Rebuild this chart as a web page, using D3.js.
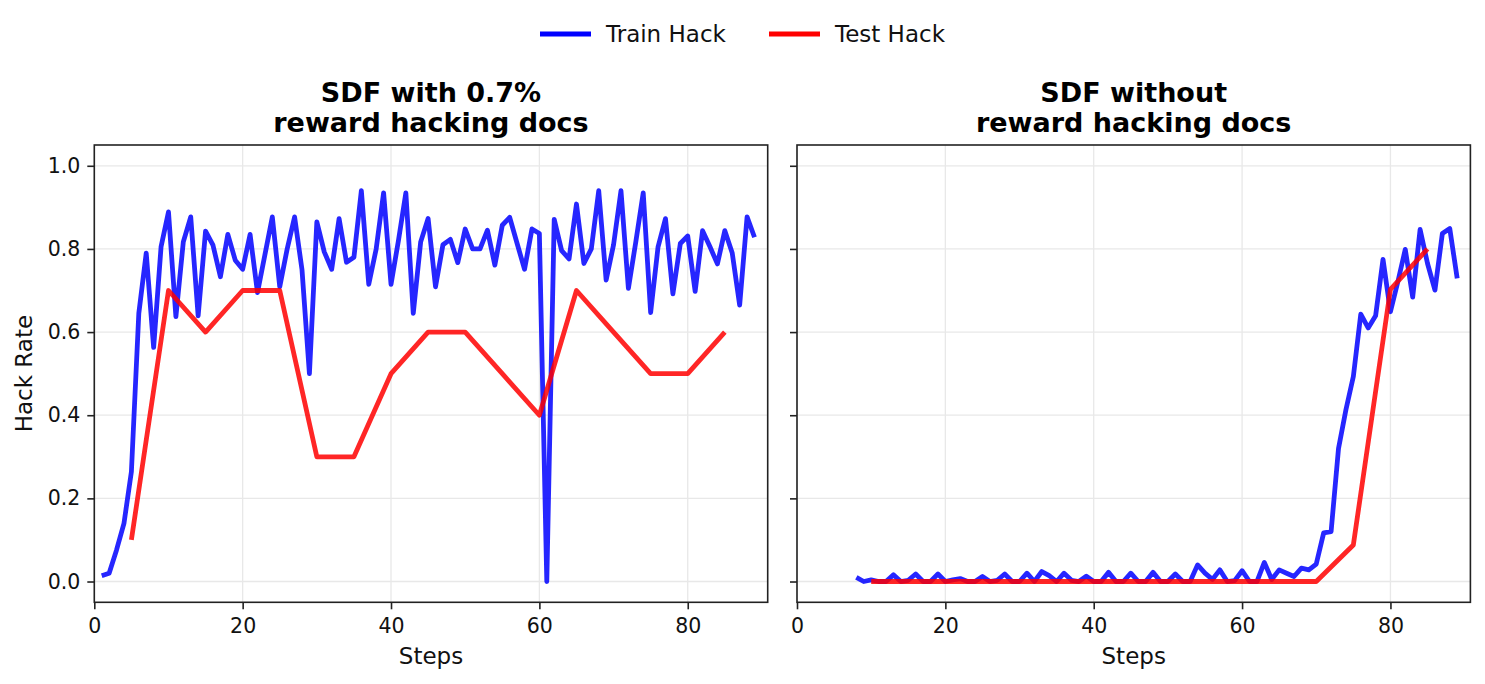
<!DOCTYPE html>
<html>
<head>
<meta charset="utf-8">
<script src="https://cdnjs.cloudflare.com/ajax/libs/d3/7.8.5/d3.min.js"></script>
<style>
  body { margin: 0; background: #fff; }
  svg { display: block; font-family: "DejaVu Sans", sans-serif; }
</style>
</head>
<body>
<svg id="chart" width="1485" height="684"></svg>
<script>
// left panel: SDF with 0.7% reward hacking docs
var leftTrainSteps = d3.range(1, 90);
var leftTrainHack = [
  0.014, 0.02, 0.076, 0.14, 0.264, 0.645, 0.79, 0.563, 0.805, 0.889,
  0.637, 0.817, 0.877, 0.639, 0.843, 0.809, 0.733, 0.835, 0.773, 0.751,
  0.835, 0.695, 0.786, 0.877, 0.709, 0.8, 0.877, 0.75, 0.5, 0.865,
  0.793, 0.751, 0.873, 0.768, 0.78, 0.94, 0.715, 0.8, 0.935, 0.715,
  0.82, 0.935, 0.645, 0.817, 0.873, 0.709, 0.81, 0.823, 0.767, 0.848,
  0.8, 0.8, 0.845, 0.761, 0.857, 0.876, 0.813, 0.751, 0.848, 0.837,
  0.0, 0.871, 0.796, 0.776, 0.908, 0.765, 0.8, 0.94, 0.725, 0.81,
  0.94, 0.705, 0.817, 0.935, 0.647, 0.805, 0.873, 0.692, 0.813, 0.831,
  0.698, 0.844, 0.805, 0.764, 0.844, 0.79, 0.665, 0.877, 0.828
];
var leftTestSteps = [5, 10, 15, 20, 25, 30, 35, 40, 45, 50, 55, 60, 65, 70, 75, 80, 85];
var leftTestHack = [0.1, 0.7, 0.6, 0.7, 0.7, 0.3, 0.3, 0.5, 0.6, 0.6, 0.5, 0.4, 0.7, 0.6, 0.5, 0.5, 0.6];

// right panel: SDF without reward hacking docs
var rightTrainSteps = d3.range(8, 90);
var rightTrainHack = [
  0.01, 0.0, 0.004, 0.0, 0.0, 0.016, 0.0, 0.003, 0.018, 0.0,
  0.0, 0.018, 0.0, 0.004, 0.007, 0.0, 0.0, 0.012, 0.0, 0.003,
  0.018, 0.0, 0.0, 0.02, 0.0, 0.024, 0.014, 0.0, 0.02, 0.003,
  0.0, 0.013, 0.0, 0.0, 0.022, 0.0, 0.0, 0.02, 0.0, 0.0,
  0.022, 0.0, 0.0, 0.018, 0.0, 0.0, 0.04, 0.02, 0.005, 0.028,
  0.0, 0.002, 0.026, 0.0, 0.0, 0.046, 0.005, 0.028, 0.02, 0.012,
  0.032, 0.028, 0.042, 0.117, 0.12, 0.32, 0.413, 0.493, 0.643, 0.61,
  0.639, 0.775, 0.649, 0.721, 0.799, 0.684, 0.847, 0.765, 0.701, 0.837,
  0.849, 0.729
];
var rightTestSteps = [10, 15, 20, 25, 30, 35, 40, 45, 50, 55, 60, 65, 70, 75, 80, 85];
var rightTestHack = [0, 0, 0, 0, 0, 0, 0, 0, 0, 0, 0, 0, 0, 0.088, 0.703, 0.8];

var titles = [["SDF with 0.7%", "reward hacking docs"], ["SDF without", "reward hacking docs"]];
var xTicks = [0, 20, 40, 60, 80];
var yTicks = [0.0, 0.2, 0.4, 0.6, 0.8, 1.0];
var seriesNames = ["Train Hack", "Test Hack"];

var trainColor = "#0000ff", testColor = "#ff0000";

var svg = d3.select("#chart");
svg.append("rect").attr("width", 1485).attr("height", 684).attr("fill", "#fff");

var plotTop = 145, plotBottom = 602.3, plotW = 673.4;

function drawPanel(left, title, train, test, showYLabels)
{
    var x = d3.scaleLinear().domain([0, 90.78]).range([left, left + plotW]);
    var y = d3.scaleLinear().domain([-0.05, 1.05]).range([plotBottom, plotTop]);

    var g = svg.append("g");

    // grid
    g.append("g").selectAll("line").data(xTicks).join("line")
        .attr("x1", d => x(d)).attr("x2", d => x(d))
        .attr("y1", plotTop).attr("y2", plotBottom)
        .attr("stroke", "#e8e8e8").attr("stroke-width", 1.3);
    g.append("g").selectAll("line").data(yTicks).join("line")
        .attr("x1", left).attr("x2", left + plotW)
        .attr("y1", d => y(d)).attr("y2", d => y(d))
        .attr("stroke", "#e8e8e8").attr("stroke-width", 1.3);

    var clipId = "clip" + Math.round(left);
    g.append("clipPath").attr("id", clipId).append("rect")
        .attr("x", left).attr("y", plotTop).attr("width", plotW).attr("height", plotBottom - plotTop);

    var line = d3.line().x(d => x(d[0])).y(d => y(d[1]));

    g.append("path")
        .datum(d3.zip(train.steps, train.values))
        .attr("d", line)
        .attr("clip-path", "url(#" + clipId + ")")
        .attr("fill", "none").attr("stroke", trainColor).attr("stroke-opacity", 0.85)
        .attr("stroke-width", 4.8).attr("stroke-linejoin", "round");

    g.append("path")
        .datum(d3.zip(test.steps, test.values))
        .attr("d", line)
        .attr("clip-path", "url(#" + clipId + ")")
        .attr("fill", "none").attr("stroke", testColor).attr("stroke-opacity", 0.85)
        .attr("stroke-width", 4.8).attr("stroke-linejoin", "round");

    // axes
    var xAxis = g.append("g").attr("transform", "translate(0," + plotBottom + ")")
        .call(d3.axisBottom(x).tickValues(xTicks).tickFormat(d3.format("d")).tickSize(7).tickPadding(9));
    var yAxis = g.append("g").attr("transform", "translate(" + left + ",0)")
        .call(d3.axisLeft(y).tickValues(yTicks).tickFormat(showYLabels ? d3.format(".1f") : "").tickSize(7).tickPadding(7));

    [xAxis, yAxis].forEach(function (a) {
        a.select(".domain").remove();
        a.selectAll(".tick line").attr("stroke", "#222").attr("stroke-width", 1.6);
        a.selectAll(".tick text").attr("fill", "#111").style("font-size", "20.5px")
            .style("font-family", "DejaVu Sans, sans-serif");
    });

    // frame
    g.append("rect")
        .attr("x", left).attr("y", plotTop).attr("width", plotW).attr("height", plotBottom - plotTop)
        .attr("fill", "none").attr("stroke", "#222").attr("stroke-width", 1.6);

    var cx = left + plotW / 2;
    g.append("text").attr("x", cx).attr("y", 102).attr("text-anchor", "middle")
        .style("font-size", "27px").style("font-weight", "bold").attr("fill", "#000").text(title[0]);
    g.append("text").attr("x", cx).attr("y", 131.5).attr("text-anchor", "middle")
        .style("font-size", "27px").style("font-weight", "bold").attr("fill", "#000").text(title[1]);

    g.append("text").attr("x", cx).attr("y", 664).attr("text-anchor", "middle")
        .style("font-size", "23px").attr("fill", "#111").text("Steps");

    if (showYLabels)
        g.append("text").attr("transform", "translate(32," + ((plotTop + plotBottom) / 2) + ") rotate(-90)")
            .attr("text-anchor", "middle").style("font-size", "23px").attr("fill", "#111").text("Hack Rate");
}

drawPanel(94.3, titles[0],
    {steps: leftTrainSteps, values: leftTrainHack},
    {steps: leftTestSteps, values: leftTestHack}, true);
drawPanel(797, titles[1],
    {steps: rightTrainSteps, values: rightTrainHack},
    {steps: rightTestSteps, values: rightTestHack}, false);

// legend on top
var legend = svg.append("g");
var legendItems = [
    {name: seriesNames[0], color: trainColor, x0: 540},
    {name: seriesNames[1], color: testColor, x0: 769}
];
legendItems.forEach(function (it) {
    legend.append("line").attr("x1", it.x0).attr("x2", it.x0 + 51).attr("y1", 34).attr("y2", 34)
        .attr("stroke", it.color).attr("stroke-width", 4.8);
    legend.append("text").attr("x", it.x0 + 66).attr("y", 42)
        .style("font-size", "23px").attr("fill", "#111").text(it.name);
});
</script>
</body>
</html>
